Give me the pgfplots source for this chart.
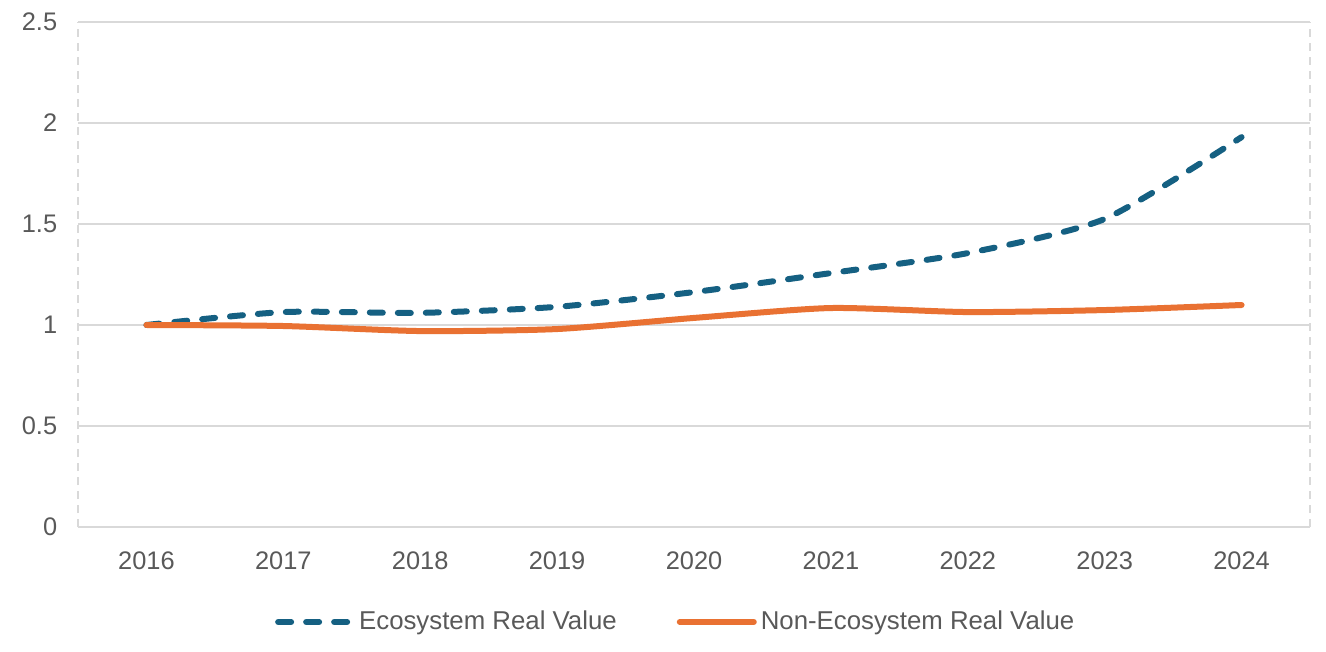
\documentclass[border=0pt]{standalone}
\usepackage{fontspec}
\setmainfont{Liberation Sans}
\usepackage{pgfplots}
\pgfplotsset{compat=1.18}
\definecolor{ecoblue}{HTML}{156082}
\definecolor{nonorange}{HTML}{E97132}
\definecolor{gridgray}{HTML}{D9D9D9}
\definecolor{txtgray}{HTML}{595959}
\begin{document}
\fontsize{12.7}{15}\selectfont
\begin{tikzpicture}
\begin{axis}[
  scale only axis,
  width=616pt, height=252.5pt,
  xmin=-0.5, xmax=8.5,
  ymin=0, ymax=2.5,
  xtick={0,1,2,3,4,5,6,7,8},
  xticklabels={2016,2017,2018,2019,2020,2021,2022,2023,2024},
  ytick={0,0.5,1,1.5,2,2.5},
  yticklabels={0,0.5,1,1.5,2,2.5},
  major tick length=0pt,
  axis line style={draw=none},
  ymajorgrids,
  major grid style={gridgray, line width=1pt},
  extra x ticks={-0.5,8.5},
  extra x tick labels={},
  extra x tick style={grid=major, major grid style={gridgray, line width=0.8pt, dash pattern=on 4pt off 3pt}},
  ticklabel style={font=\fontsize{12.7}{15}\selectfont, text=txtgray},
  /pgf/number format/assume math mode=true,
  yticklabel style={xshift=-6pt},
  xticklabel style={yshift=-8pt},
  clip=false,
  legend style={at={(0.486,-0.188)}, anchor=center, draw=none, fill=none,
    legend columns=2, font=\fontsize{12.9}{15}\selectfont, text=txtgray,
    /tikz/every even column/.append style={column sep=28pt}},
  legend image code/.code={\draw[#1] (0pt,0pt) -- (37pt,0pt);},
]
\addplot[ecoblue, line width=3pt, line cap=round, dash pattern=on 6.5pt off 7.5pt, smooth, tension=0.4] coordinates {
 (0,1.0) (1,1.064) (2,1.06) (3,1.09) (4,1.163) (5,1.257) (6,1.356) (7,1.525) (8,1.93)};
\addlegendentry{Ecosystem Real Value}
\addplot[nonorange, line width=3pt, line cap=round, smooth, tension=0.4] coordinates {
 (0,1.0) (1,0.995) (2,0.97) (3,0.98) (4,1.035) (5,1.084) (6,1.064) (7,1.074) (8,1.099)};
\addlegendentry{Non-Ecosystem Real Value}
\end{axis}
\path ([shift={(-39pt,-62pt)}]current axis.south west) rectangle ([shift={(8pt,11pt)}]current axis.north east);
\end{tikzpicture}
\end{document}
